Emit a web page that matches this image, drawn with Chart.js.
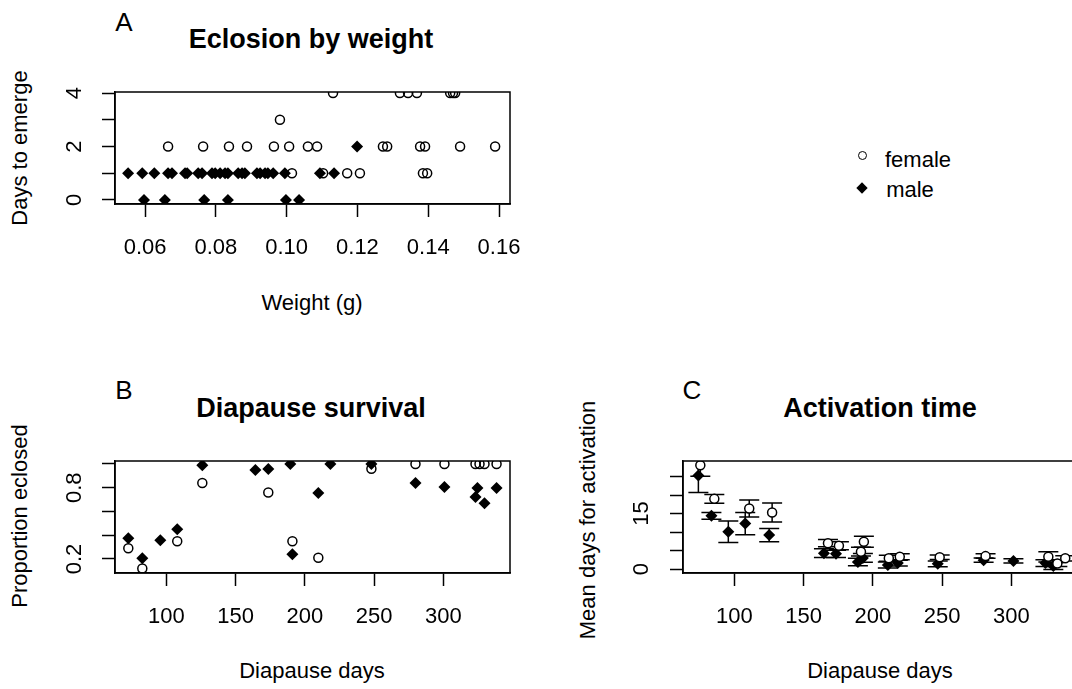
<!DOCTYPE html>
<html lang="en">
<head>
  <meta charset="UTF-8">
  <title>Eclosion, diapause survival and activation</title>
  <script src="https://cdn.jsdelivr.net/npm/chart.js"></script>
  <style>
    body {
      margin: 0;
      width: 1072px;
      height: 689px;
      overflow: hidden;
      position: relative;
      background: #fff;
      color: #000;
      font-family: 'Liberation Sans', Arial, sans-serif;
    }
    canvas { position: absolute; }
    .txt { position: absolute; font-size: 22px; line-height: 1; white-space: nowrap; transform: translate(-50%, -50%); }
    .title { font-weight: bold; font-size: 27px; }
    .letter { font-size: 26px; }
    .rot { transform: translate(-50%, -50%) rotate(-90deg); }
    .mk { position: absolute; box-sizing: border-box; }
  </style>
</head>
<body>
  <!-- panel A -->
  <div class="txt letter" style="left:124px; top:22px;">A</div>
  <div class="txt title" style="left:311px; top:39px;">Eclosion by weight</div>
  <div class="txt rot" style="left:20px; top:148px;">Days to emerge</div>
  <div class="txt" style="left:312px; top:303px;">Weight (g)</div>
  <canvas id="chartA" width="520" height="190" style="left:0; top:82px;"></canvas>

  <!-- legend -->
  <div class="mk" style="left:858px; top:151px; width:9px; height:9px; border:1.5px solid #000; border-radius:50%;"></div>
  <div class="txt" style="left:918px; top:160px;">female</div>
  <div class="mk" style="left:858px; top:184px; width:8px; height:8px; background:#000; transform:rotate(45deg);"></div>
  <div class="txt" style="left:910px; top:190px;">male</div>

  <!-- panel B -->
  <div class="txt letter" style="left:124px; top:390px;">B</div>
  <div class="txt title" style="left:311px; top:408px;">Diapause survival</div>
  <div class="txt rot" style="left:20px; top:516px;">Proportion eclosed</div>
  <div class="txt" style="left:312px; top:671px;">Diapause days</div>
  <canvas id="chartB" width="520" height="190" style="left:0; top:451px;"></canvas>

  <!-- panel C -->
  <div class="txt letter" style="left:692px; top:390px;">C</div>
  <div class="txt title" style="left:880px; top:408px;">Activation time</div>
  <div class="txt rot" style="left:588px; top:520px;">Mean days for activation</div>
  <div class="txt" style="left:880px; top:671px;">Diapause days</div>
  <canvas id="chartC" width="520" height="190" style="left:568px; top:451px;"></canvas>

  <script>
    // --- A: days to emerge vs weight
    const femaleWeight = [0.1015, 0.1103, 0.1171, 0.1207, 0.1385, 0.1397,
      0.0665, 0.0764, 0.0837, 0.0888, 0.0964, 0.1007, 0.1060, 0.1086, 0.1272, 0.1284, 0.1377, 0.1391, 0.1490, 0.1589,
      0.0981,
      0.1131, 0.1320, 0.1343, 0.1368, 0.1462, 0.1470, 0.1476];
    const femaleEmerge = [1, 1, 1, 1, 1, 1,
      2, 2, 2, 2, 2, 2, 2, 2, 2, 2, 2, 2, 2, 2,
      3,
      4, 4, 4, 4, 4, 4, 4];
    const maleWeight = [0.0552, 0.0592, 0.0626, 0.0665, 0.0676, 0.0713, 0.0719, 0.0750, 0.0761, 0.0789, 0.0798, 0.0812,
      0.0826, 0.0834, 0.0863, 0.0874, 0.0882, 0.0916, 0.0925, 0.0939, 0.0947, 0.0962, 0.0995, 0.1094, 0.1134,
      0.0597, 0.0656, 0.0767, 0.0834, 0.0998, 0.1035,
      0.1199];
    const maleEmerge = [1, 1, 1, 1, 1, 1, 1, 1, 1, 1, 1, 1,
      1, 1, 1, 1, 1, 1, 1, 1, 1, 1, 1, 1, 1,
      0, 0, 0, 0, 0, 0,
      2];
    const weightTicks = [0.06, 0.08, 0.10, 0.12, 0.14, 0.16];
    const weightTickLabels = ['0.06', '0.08', '0.10', '0.12', '0.14', '0.16'];
    const emergeTicks = [0, 1, 2, 3, 4];
    const emergeTickLabels = ['0', '', '2', '', '4'];

    // --- B: proportion eclosed vs diapause days
    const femaleSurvDays = [72.6, 82.7, 107.9, 126, 173.6, 191, 209.7, 248, 279.8, 300.7, 323.1, 326, 329.6, 338.3];
    const femaleSurv = [0.29, 0.12, 0.35, 0.84, 0.76, 0.35, 0.21, 0.96, 1, 1, 1, 1, 1, 1];
    const maleSurvDays = [72.6, 82.7, 95.7, 107.9, 126, 164.3, 173.6, 189.5, 191, 209.7, 218.4, 248, 279.8, 300.7, 323.1, 324.5, 329.6, 338.3];
    const maleSurv = [0.375, 0.206, 0.358, 0.451, 0.99, 0.95, 0.958, 1.0, 0.24, 0.755, 1.0, 1.0, 0.839, 0.806, 0.721, 0.797, 0.670, 0.797];
    const dayTicks = [100, 150, 200, 250, 300];
    const dayTickLabels = ['100', '150', '200', '250', '300'];
    const propTicks = [0.2, 0.4, 0.6, 0.8, 1.0];
    const propTickLabels = ['0.2', '', '', '0.8', ''];

    // --- C: mean days for activation (+/- se)
    const femaleActDays = [75.5, 85.6, 110.8, 127.3, 167.6, 175.5, 191.4, 193.5, 211.5, 219.4, 248.2, 281.3, 326.6, 333.1, 338.8];
    const femaleActMean = [28.1, 19.0, 16.4, 15.3, 7.0, 6.3, 4.7, 7.4, 2.9, 3.3, 3.2, 3.5, 3.3, 1.5, 2.9];
    const femaleActSE = [3.0, 1.2, 2.3, 2.6, 1.0, 1.1, 1.2, 1.5, 0.8, 0.8, 0.6, 0.6, 1.4, 0.8, 0.7];
    const maleActDays = [74.1, 83.5, 95.7, 107.9, 125.2, 164.7, 173.4, 189.2, 192.8, 210.8, 218, 246.8, 279.9, 301.4, 324.5, 330.2];
    const maleActMean = [25.3, 14.4, 10.1, 12.3, 9.2, 4.3, 4.1, 1.9, 3.0, 1.1, 1.6, 1.4, 2.4, 2.2, 1.6, 0.8];
    const maleActSE = [4.6, 0.9, 2.9, 3.0, 1.8, 1.2, 1.0, 1.0, 1.2, 0.8, 0.8, 0.8, 0.6, 0.6, 0.9, 0.9];
    const actTicks = [0, 5, 10, 15, 20, 25];
    const actTickLabels = ['0', '', '', '15', '', ''];

    const FONT = { family: "'Liberation Sans', Arial, sans-serif", size: 22 };

    function pts(xs, ys, se) {
      return xs.map((x, i) => se ? { x: x, y: ys[i], se: se[i] } : { x: x, y: ys[i] });
    }

    function openSet(label, data, fill) {
      return {
        label: label, data: data, showLine: false, clip: 0,
        pointStyle: 'circle', pointRadius: 4.5, pointBorderWidth: 1.5,
        pointBorderColor: '#000', pointBackgroundColor: fill || 'rgba(0,0,0,0)'
      };
    }
    function filledSet(label, data) {
      return {
        label: label, data: data, showLine: false, clip: 0,
        pointStyle: 'rectRot', pointRadius: 6, pointBorderWidth: 0,
        pointBackgroundColor: '#000'
      };
    }

    function axis(min, max, ticks, labels, size, pad, rot) {
      return {
        type: 'linear', min: min, max: max,
        afterBuildTicks: s => { s.ticks = ticks.map(v => ({ value: v })); },
        afterFit: s => {
          // fixed axis size, no extra room for the end labels
          if (s.isHorizontal()) s.height = size; else s.width = size;
          s.paddingTop = 0; s.paddingBottom = 0; s.paddingLeft = 0; s.paddingRight = 0;
        },
        grid: { display: true, drawOnChartArea: false, drawTicks: true, tickLength: 13, tickColor: '#000', tickWidth: 1.5 },
        border: { display: true, color: '#000', width: 1.5 },
        ticks: {
          autoSkip: false, color: '#000', font: FONT, padding: pad,
          minRotation: rot || 0, maxRotation: rot || 0, crossAlign: rot ? 'center' : 'near',
          callback: (v, i) => labels[i]
        }
      };
    }

    // R style box round the plot region
    const box = {
      id: 'box',
      afterDraw(chart) {
        const { ctx, chartArea: a } = chart;
        ctx.save();
        ctx.strokeStyle = '#000';
        ctx.lineWidth = 1.5;
        ctx.strokeRect(a.left, a.top, a.right - a.left, a.bottom - a.top);
        ctx.restore();
      }
    };

    const errorBars = {
      id: 'errorBars',
      beforeDatasetsDraw(chart) {
        const { ctx, chartArea: a, scales: { x, y } } = chart;
        ctx.save();
        ctx.beginPath();
        ctx.rect(a.left, a.top, a.right - a.left, a.bottom - a.top);
        ctx.clip();
        ctx.strokeStyle = '#000';
        ctx.lineWidth = 1.5;
        chart.data.datasets.forEach(ds => {
          ds.data.forEach(p => {
            const px = x.getPixelForValue(p.x);
            const lo = y.getPixelForValue(p.y - p.se);
            const hi = y.getPixelForValue(p.y + p.se);
            ctx.beginPath();
            ctx.moveTo(px, lo); ctx.lineTo(px, hi);
            ctx.moveTo(px - 10, lo); ctx.lineTo(px + 10, lo);
            ctx.moveTo(px - 10, hi); ctx.lineTo(px + 10, hi);
            ctx.stroke();
          });
        });
        ctx.restore();
      }
    };

    const common = {
      responsive: false,
      animation: false,
      plugins: { legend: { display: false }, tooltip: { enabled: false } },
      layout: { padding: { top: 10, right: 10, left: 0, bottom: 0 } }
    };

    new Chart(document.getElementById('chartA'), {
      type: 'scatter',
      data: {
        datasets: [
          filledSet('male', pts(maleWeight, maleEmerge)),
          openSet('female', pts(femaleWeight, femaleEmerge))
        ]
      },
      options: Object.assign({}, common, {
        scales: {
          x: axis(0.0515, 0.1631, weightTicks, weightTickLabels, 68, 18),
          y: axis(-0.15, 4.04, emergeTicks, emergeTickLabels, 115, 21, 90)
        }
      }),
      plugins: [box]
    });

    new Chart(document.getElementById('chartB'), {
      type: 'scatter',
      data: {
        datasets: [
          filledSet('male', pts(maleSurvDays, maleSurv)),
          openSet('female', pts(femaleSurvDays, femaleSurv))
        ]
      },
      options: Object.assign({}, common, {
        scales: {
          x: axis(63, 348, dayTicks, dayTickLabels, 68, 18),
          y: axis(0.082, 1.025, propTicks, propTickLabels, 115, 12, 90)
        }
      }),
      plugins: [box]
    });

    new Chart(document.getElementById('chartC'), {
      type: 'scatter',
      data: {
        datasets: [
          openSet('female', pts(femaleActDays, femaleActMean, femaleActSE), '#fff'),
          filledSet('male', pts(maleActDays, maleActMean, maleActSE))
        ]
      },
      options: Object.assign({}, common, {
        scales: {
          x: axis(63, 348, dayTicks, dayTickLabels, 68, 18),
          y: axis(-1.08, 29.25, actTicks, actTickLabels, 115, 16, 90)
        }
      }),
      plugins: [box, errorBars]
    });
  </script>
</body>
</html>
